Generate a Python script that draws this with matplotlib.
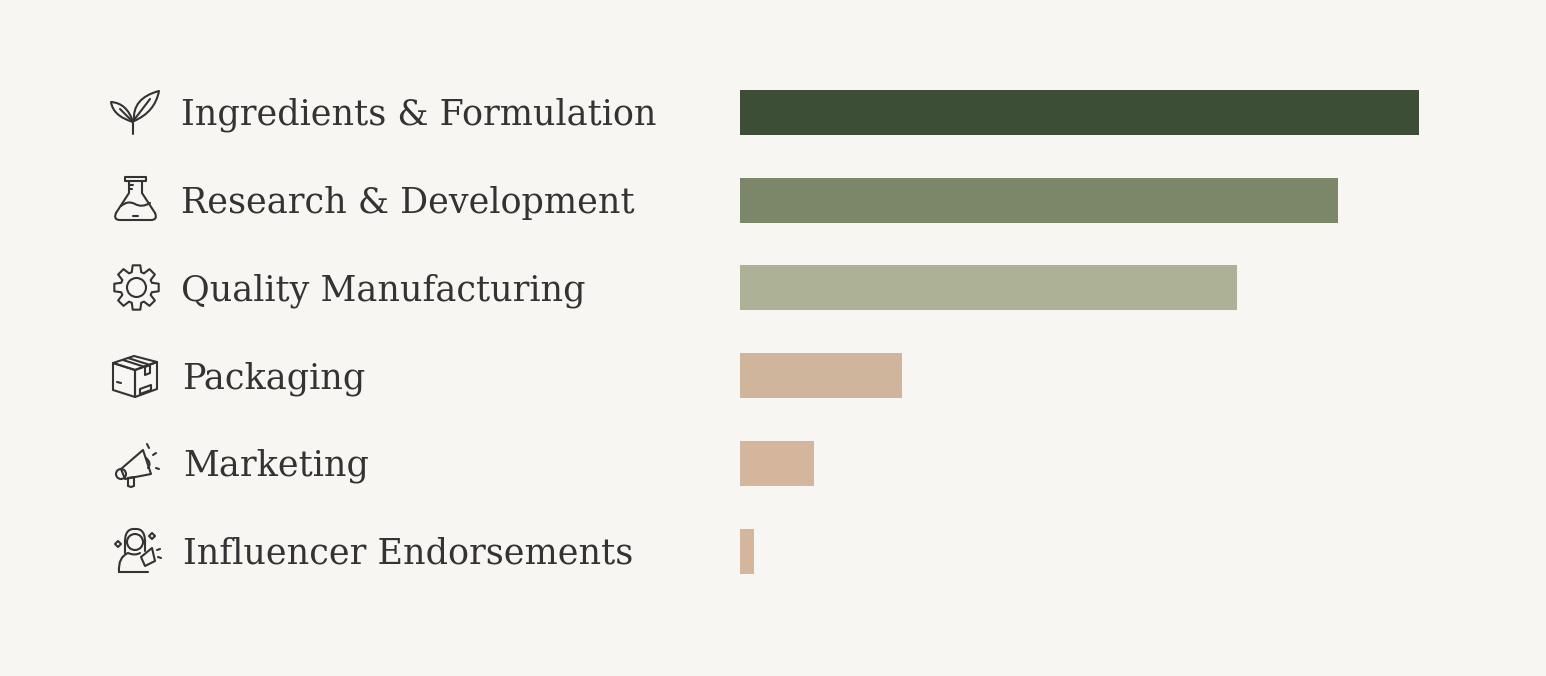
import numpy as np
import matplotlib.pyplot as plt
import matplotlib.transforms as mtransforms
from matplotlib.patches import Circle, Polygon, PathPatch, Rectangle
from matplotlib.path import Path

categories = ['Ingredients & Formulation', 'Research & Development', 'Quality Manufacturing',
              'Packaging', 'Marketing', 'Influencer Endorsements']
values = [100, 88, 73.2, 23.9, 10.9, 2.1]
colors = ['#3c4e36', '#7c876a', '#adb297', '#cfb59b', '#d3b69c', '#d3b69c']

W, H = 1546, 676
bg = '#f8f6f2'
ink = '#333333'

fig = plt.figure(figsize=(W / 100, H / 100), dpi=100, facecolor=bg)

# bar axes: value 0 at x=740px, 100 at x=1419px; rows 87.7px apart starting at 112.5px
step = 87.7
top = 112.5 - step / 2
ax = fig.add_axes([740 / W, 1 - (top + 6 * step) / H, (1419 - 740) / W, 6 * step / H])
ax.set_facecolor('none')
y = np.arange(len(categories))
ax.barh(y, values, height=45 / step, color=colors, left=0)
ax.set_xlim(0, 100)
ax.set_ylim(len(categories) - 0.5, -0.5)
ax.axis('off')

# labels
trans = mtransforms.blended_transform_factory(fig.transFigure, ax.transData)
label_x = [181, 181, 181, 182, 183, 183]
for i, c in enumerate(categories):
    ax.text(label_x[i] / W, i + 12.5 / step, c, transform=trans, ha='left', va='baseline',
            fontsize=25.2, family='DejaVu Serif', color=ink, clip_on=False)

# icon overlay in pixel coordinates
ov = fig.add_axes([0, 0, 1, 1])
ov.set_xlim(0, W)
ov.set_ylim(H, 0)
ov.axis('off')
lw = 1.5
kw = dict(fill=False, edgecolor=ink, linewidth=lw, joinstyle='round', capstyle='round')


def curve(pts, closed=False):
    codes = [Path.MOVETO] + [Path.CURVE3] * (len(pts) - 1)
    if closed:
        pts = pts + [pts[0]]
        codes = codes + [Path.LINETO]
    ov.add_patch(PathPatch(Path(pts, codes), **kw))


def line(pts):
    xs, ys = zip(*pts)
    ov.plot(xs, ys, color=ink, lw=lw, solid_capstyle='round', solid_joinstyle='round')


# leaf
line([(133, 134), (133, 121)])
curve([(133, 122), (127, 103), (111, 102), (113, 116), (133, 122)])
line([(133, 122), (120, 109)])
curve([(134, 121), (132, 98), (159, 91), (155, 112), (134, 121)])
line([(134, 120), (150, 99)])

# flask
ov.add_patch(Rectangle((125, 176.5), 21, 4.5, **kw))
line([(129, 181), (129, 193), (116, 213)])
line([(142, 181), (142, 193), (155, 213)])
curve([(116, 213), (113, 220), (120, 220)])
curve([(155, 213), (158, 220), (151, 220)])
line([(120, 220), (151, 220)])
curve([(121, 206), (128, 200), (135, 204), (142, 208), (150, 203)])
line([(129, 185), (133, 185)])
line([(129, 189), (132, 189)])
line([(133, 216), (138, 216)])

# gear: 8 square-ish teeth
cx, cy = 136.5, 287.5
pts = []
for k in range(8):
    a = k * np.pi / 4
    for da, rr in [(-0.30, 16), (-0.17, 22.5), (0.17, 22.5), (0.30, 16)]:
        pts.append((cx + rr * np.cos(a + da), cy + rr * np.sin(a + da)))
ov.add_patch(Polygon(pts, closed=True, **kw))
ov.add_patch(Circle((cx, cy), 9.5, **kw))

# box
A, B, C, D = (113, 363), (134, 356), (157, 362), (135, 370)
ov.add_patch(Polygon([A, B, C, D], closed=True, **kw))
ov.add_patch(Polygon([A, D, (135, 397), (113, 390)], closed=True, **kw))
ov.add_patch(Polygon([D, C, (157, 389), (135, 397)], closed=True, **kw))
line([(123, 360), (145, 367)])
line([(128, 358), (150, 365)])
ov.add_patch(Polygon([(145, 367), (150, 365), (150, 373), (145, 375)], closed=True, **kw))
line([(117, 382), (121, 383)])
ov.add_patch(Polygon([(140, 389), (151, 385), (151, 390), (140, 394)], closed=True, **kw))

# megaphone
ov.add_patch(Polygon([(121, 469), (143, 450), (151, 474), (125, 479)], closed=True, **kw))
ov.add_patch(Circle((121, 474), 5, **kw))
ov.add_patch(Polygon([(128, 478), (134, 477), (134, 486), (131, 487), (128, 486)], closed=True, **kw))
curve([(146, 458), (152, 463), (148, 468)])
line([(147, 444), (149, 448)])
line([(153, 455), (156, 453)])
line([(156, 468), (159, 469)])

# influencer
ov.add_patch(Circle((135, 542), 8, **kw))
curve([(125, 545), (124, 528), (135, 529), (146, 528), (145, 545)])
line([(125, 545), (125, 553)])
line([(145, 545), (145, 551)])
curve([(119, 572), (118, 557), (128, 553), (135, 556), (140, 553)])
line([(119, 572), (148, 572)])
ov.add_patch(Polygon([(141, 557), (152, 548), (155, 561), (145, 566)], closed=True, **kw))
ov.add_patch(Polygon([(118, 541), (121, 544), (118, 547), (115, 544)], closed=True, **kw))
ov.add_patch(Polygon([(152, 533), (155, 536), (152, 539), (149, 536)], closed=True, **kw))
line([(157, 550), (160, 549)])
line([(158, 557), (161, 558)])

fig.savefig('out.png', dpi=100, facecolor=bg)
